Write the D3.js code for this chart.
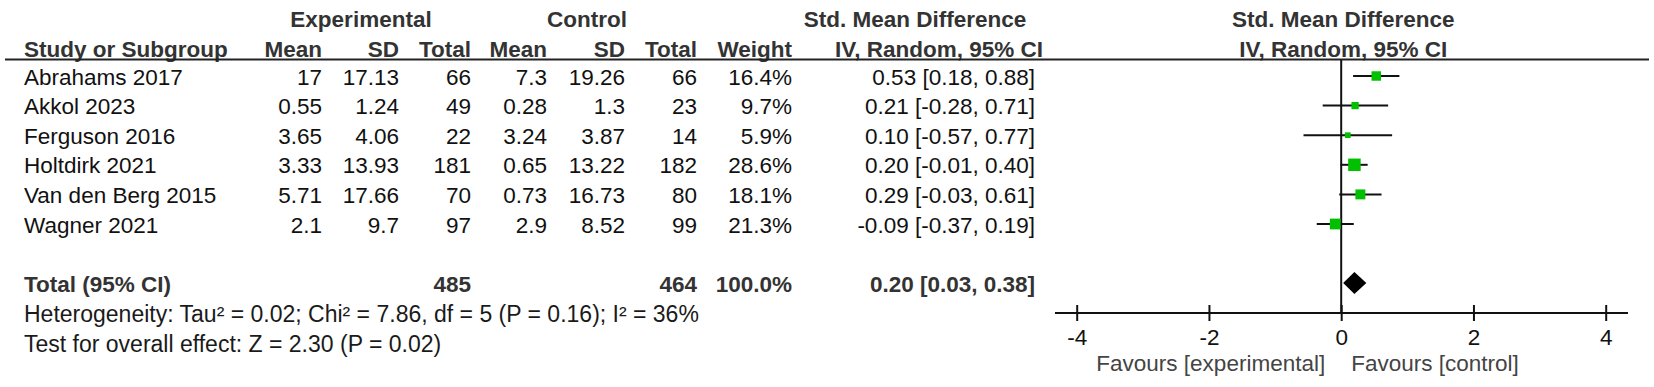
<!DOCTYPE html>
<html><head><meta charset="utf-8">
<script src="https://cdn.jsdelivr.net/npm/d3@7"></script>
<style>
html,body{margin:0;padding:0;background:#fff;}
svg{display:block;}
text{font-family:"Liberation Sans",Arial,sans-serif;}
</style></head>
<body>
<svg id="chart" width="1654" height="387"></svg>
<script>
const studies = ["Abrahams 2017","Akkol 2023","Ferguson 2016","Holtdirk 2021","Van den Berg 2015","Wagner 2021"];
const expMean = [17, 0.55, 3.65, 3.33, 5.71, 2.1];
const expSD = [17.13, 1.24, 4.06, 13.93, 17.66, 9.7];
const expN = [66, 49, 22, 181, 70, 97];
const ctrlMean = [7.3, 0.28, 3.24, 0.65, 0.73, 2.9];
const ctrlSD = [19.26, 1.3, 3.87, 13.22, 16.73, 8.52];
const ctrlN = [66, 23, 14, 182, 80, 99];
const weight = [16.4, 9.7, 5.9, 28.6, 18.1, 21.3];
const smd = [0.53, 0.21, 0.10, 0.20, 0.29, -0.09];
const ciLow = [0.18, -0.28, -0.57, -0.01, -0.03, -0.37];
const ciHigh = [0.88, 0.71, 0.77, 0.40, 0.61, 0.19];
const totalExpN = 485, totalCtrlN = 464, totalWeight = 100.0;
const totalSmd = 0.20, totalLow = 0.03, totalHigh = 0.38;
const heterogeneityText = "Heterogeneity: Tau² = 0.02; Chi² = 7.86, df = 5 (P = 0.16); I² = 36%";
const overallText = "Test for overall effect: Z = 2.30 (P = 0.02)";
const axisTicks = [-4, -2, 0, 2, 4];
const favourLeft = "Favours [experimental]", favourRight = "Favours [control]";

const svg = d3.select("#chart");
const FS = 22.5;
const bodyCol = "#111", headCol = "#333";

// layout
const rowY = d3.scaleLinear().domain([0, 1]).range([84.5, 114.1]);   // text baselines
const markOff = -8.5;                                                  // marker centre relative to baseline
const x = d3.scaleLinear().domain([-4, 4]).range([1076.7, 1605.7]);
const sizeScale = d3.scaleSqrt().domain([0, d3.max(weight)]).range([0, 12.5]);

const cols = {study: 24, eMean: 322, eSD: 399, eN: 471, cMean: 547, cSD: 625, cN: 697, w: 792, ci: 1035};

function txt(xp, yp, s, anchor, bold, col, fs) {
  svg.append("text").attr("x", xp).attr("y", yp).attr("text-anchor", anchor || "start")
    .attr("font-size", fs || FS).attr("font-weight", bold ? "bold" : "normal")
    .attr("fill", col || bodyCol).text(s);
}
const fmtCI = (m, l, h) => `${m.toFixed(2)} [${l.toFixed(2)}, ${h.toFixed(2)}]`;

// headers
const h1 = 27, h2 = 57;
txt(361, h1, "Experimental", "middle", true, headCol);
txt(587, h1, "Control", "middle", true, headCol);
txt(915, h1, "Std. Mean Difference", "middle", true, headCol);
txt(x(0) + 2, h1, "Std. Mean Difference", "middle", true, headCol);
txt(cols.study, h2, "Study or Subgroup", "start", true, headCol);
txt(cols.eMean, h2, "Mean", "end", true, headCol);
txt(cols.eSD, h2, "SD", "end", true, headCol);
txt(cols.eN, h2, "Total", "end", true, headCol);
txt(cols.cMean, h2, "Mean", "end", true, headCol);
txt(cols.cSD, h2, "SD", "end", true, headCol);
txt(cols.cN, h2, "Total", "end", true, headCol);
txt(cols.w, h2, "Weight", "end", true, headCol);
txt(939, h2, "IV, Random, 95% CI", "middle", true, headCol);
txt(x(0) + 2, h2, "IV, Random, 95% CI", "middle", true, headCol);

svg.append("line").attr("x1", 5).attr("x2", 1649).attr("y1", 59.5).attr("y2", 59.5)
  .attr("stroke", "#222").attr("stroke-width", 2);

// study rows
studies.forEach((s, i) => {
  const y = rowY(i);
  txt(cols.study, y, s);
  txt(cols.eMean, y, String(expMean[i]), "end");
  txt(cols.eSD, y, String(expSD[i]), "end");
  txt(cols.eN, y, String(expN[i]), "end");
  txt(cols.cMean, y, String(ctrlMean[i]), "end");
  txt(cols.cSD, y, String(ctrlSD[i]), "end");
  txt(cols.cN, y, String(ctrlN[i]), "end");
  txt(cols.w, y, weight[i].toFixed(1) + "%", "end");
  txt(cols.ci, y, fmtCI(smd[i], ciLow[i], ciHigh[i]), "end");
});

// total row
const yTot = 291.5;
txt(cols.study, yTot, "Total (95% CI)", "start", true, headCol);
txt(cols.eN, yTot, String(totalExpN), "end", true, headCol);
txt(cols.cN, yTot, String(totalCtrlN), "end", true, headCol);
txt(cols.w, yTot, totalWeight.toFixed(1) + "%", "end", true, headCol);
txt(cols.ci, yTot, fmtCI(totalSmd, totalLow, totalHigh), "end", true, headCol);
txt(cols.study, 322, heterogeneityText, "start", false, "#1a1a1a", 23);
txt(cols.study, 352, overallText, "start", false, "#1a1a1a", 23);

// forest plot
const axisY = 313;
svg.append("line").attr("x1", x(0)).attr("x2", x(0)).attr("y1", 60).attr("y2", axisY)
  .attr("stroke", "#111").attr("stroke-width", 2);

const g = svg.append("g");
g.selectAll("line.ci").data(studies).join("line").attr("class", "ci")
  .attr("x1", (d, i) => x(ciLow[i])).attr("x2", (d, i) => x(ciHigh[i]))
  .attr("y1", (d, i) => rowY(i) + markOff).attr("y2", (d, i) => rowY(i) + markOff)
  .attr("stroke", "#111").attr("stroke-width", 2);
g.selectAll("rect.mk").data(studies).join("rect").attr("class", "mk")
  .attr("x", (d, i) => x(smd[i]) - sizeScale(weight[i]) / 2)
  .attr("y", (d, i) => rowY(i) + markOff - sizeScale(weight[i]) / 2)
  .attr("width", (d, i) => sizeScale(weight[i]))
  .attr("height", (d, i) => sizeScale(weight[i]))
  .attr("fill", "#00c000");

const yD = yTot + markOff;
svg.append("path")
  .attr("d", `M${x(totalLow)},${yD} L${x(totalSmd)},${yD - 11} L${x(totalHigh)},${yD} L${x(totalSmd)},${yD + 11} Z`)
  .attr("fill", "#000");

// axis
const axisG = svg.append("g").attr("transform", `translate(0,${axisY})`);
axisG.append("line").attr("x1", 1055).attr("x2", 1628).attr("y1", 0).attr("y2", 0)
  .attr("stroke", "#111").attr("stroke-width", 2);
const ax = d3.axisBottom(x).tickValues(axisTicks).tickSize(0).tickFormat(d3.format("d"));
const axCall = axisG.append("g").call(ax);
axCall.select(".domain").remove();
axCall.selectAll(".tick text").attr("font-size", 22.5).attr("fill", "#111")
  .attr("font-family", '"Liberation Sans",Arial,sans-serif').attr("dy", 0).attr("y", 32)
  .text(d => d < 0 ? "-" + Math.abs(d) : String(d));
axCall.selectAll(".tick").append("line").attr("y1", -8).attr("y2", 8)
  .attr("stroke", "#111").attr("stroke-width", 2);

txt(x(0) - 16, axisY + 58, favourLeft, "end", false, "#444", 22.5);
txt(x(0) + 10, axisY + 58, favourRight, "start", false, "#444", 22.5);
</script>
</body></html>
